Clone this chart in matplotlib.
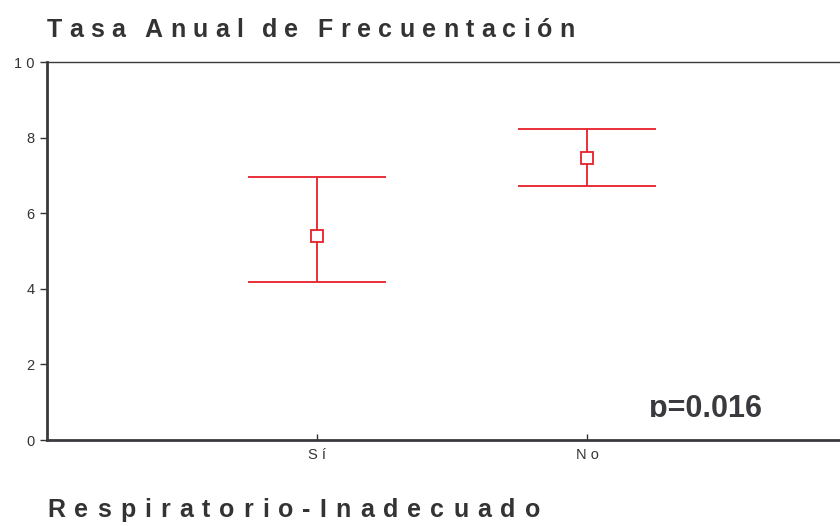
import matplotlib
matplotlib.use("Agg")
from matplotlib import pyplot as plt
from matplotlib.transforms import Bbox
import numpy as np

# datos
categorias = ["Sí", "No"]
medias = [5.40, 7.46]
limite_inf = [4.18, 6.72]
limite_sup = [6.96, 8.23]
y_ticks = [0, 2, 4, 6, 8, 10]
p_valor = "p=0.016"
titulo = "Tasa Anual de Frecuentación"
subtitulo = "Respiratorio-Inadecuado"


def espaciar(texto):
    # imita el espaciado entre letras del original
    return " ".join(texto)


def texto_espaciado(fig, x0, x1, y, texto, size):
    # coloca letra por letra para que el texto ocupe de x0 a x1 (pixeles)
    r = fig.canvas.get_renderer()
    anchos = []
    for ch in texto:
        t = fig.text(0, 0, ch if ch != " " else "n", fontsize=size,
                     fontweight="bold")
        w = t.get_window_extent(r).width
        if ch == " ":
            w *= 0.3
        anchos.append(w)
        t.remove()
    extra = (x1 - x0 - sum(anchos)) / (len(texto) - 1)
    x = x0
    for ch, w in zip(texto, anchos):
        if ch != " ":
            fig.text(x / 840, 1 - y / 526, ch, fontsize=size, fontweight="bold",
                     color="#333333", va="center", ha="left")
        x += w + extra


plt.rcParams["font.family"] = ["Liberation Sans", "DejaVu Sans"]

fig = plt.figure(figsize=(8.4, 5.26), dpi=100)
ax = fig.add_axes([47 / 840, 1 - 440 / 526, 810 / 840, 378 / 526])

x = np.arange(1, len(categorias) + 1)
medias = np.array(medias)
err = [medias - np.array(limite_inf), np.array(limite_sup) - medias]
rojo = "#e8202a"
ax.errorbar(x, medias, yerr=err, fmt="s", color=rojo, mfc="white", mec=rojo,
            markersize=8, mew=1.3, ecolor=rojo, elinewidth=1.3,
            capsize=50, capthick=1.3)

ax.set_xlim(0, 3)
ax.set_ylim(0, 10)
ax.set_yticks(y_ticks)
ax.set_yticklabels([espaciar(str(t)) for t in y_ticks])
ax.set_xticks(x)
ax.set_xticklabels([espaciar(c) for c in categorias])
ax.tick_params(axis="y", direction="out", length=5, width=1, colors="#333333",
               labelsize=10.5, pad=4)
ax.tick_params(axis="x", direction="in", length=4, width=1, colors="#333333",
               labelsize=10.5, pad=6)

for lado in ["left", "bottom"]:
    ax.spines[lado].set_linewidth(2)
    ax.spines[lado].set_color("#3a3a3e")
ax.spines["top"].set_linewidth(1)
ax.spines["top"].set_color("#3a3a3e")

t = ax.text(2.23, 0.61, p_valor, fontsize=22, fontweight="bold",
            color="#3a3a3e", va="baseline", ha="left")
t.set_clip_box(Bbox.from_extents(0, 526 - 417, 840, 526))
t.set_clip_on(True)

texto_espaciado(fig, 47, 575, 30, titulo, 18)
texto_espaciado(fig, 47, 540, 510, subtitulo, 18)

fig.savefig("out.png", dpi=100)
